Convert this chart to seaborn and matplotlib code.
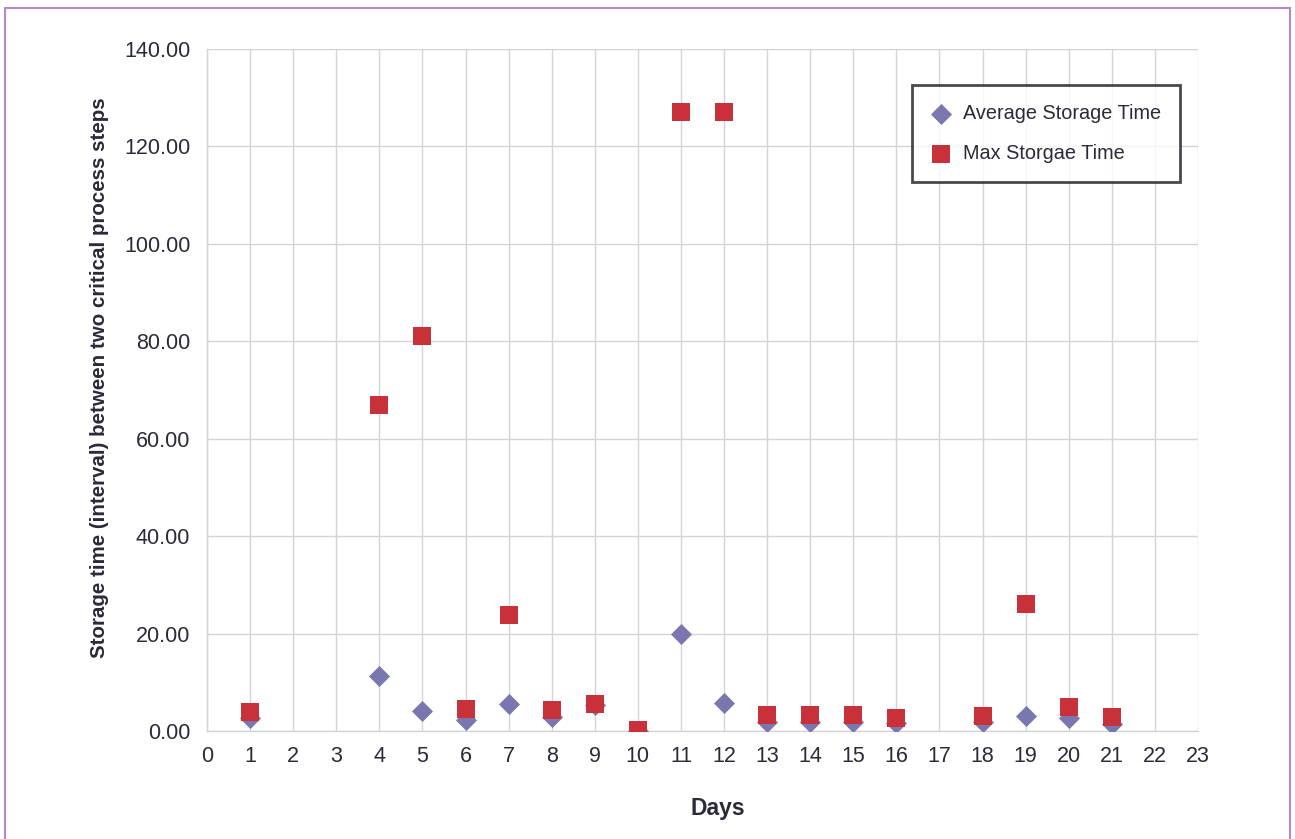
import matplotlib
matplotlib.use("Agg")
import matplotlib.pyplot as plt
import seaborn as sns
import pandas as pd
from matplotlib.patches import Rectangle
from matplotlib import font_manager

days = [1, 4, 5, 6, 7, 8, 9, 10, 11, 12, 13, 14, 15, 16, 18, 19, 20, 21]
avg_storage = [2.7, 11.3, 4.1, 2.3, 5.5, 2.9, 5.4, 0.1, 20.0, 5.8, 1.9, 1.9, 1.9, 1.6, 1.9, 3.0, 2.6, 1.5]
max_storage = [3.8, 66.9, 81.1, 4.5, 23.8, 4.3, 5.5, 0.2, 127.1, 127.1, 3.3, 3.3, 3.3, 2.7, 3.1, 26.1, 4.9, 2.9]
series_names = ["Average Storage Time", "Max Storgae Time"]
x_ticks = list(range(0, 24))
y_ticks = [0, 20, 40, 60, 80, 100, 120, 140]

sns.set_theme(style="white")
names = {f.name for f in font_manager.fontManager.ttflist}
fam = "Liberation Sans Narrow" if "Liberation Sans Narrow" in names else "Liberation Sans"
plt.rcParams["font.family"] = [fam, "DejaVu Sans"]

df = pd.DataFrame({
    "Day": days * 2,
    "Value": avg_storage + max_storage,
    "Series": [series_names[0]] * len(days) + [series_names[1]] * len(days),
})

fig = plt.figure(figsize=(12.95, 8.39), dpi=100)
ax = fig.add_axes([207 / 1295, 1 - 731 / 839, (1198 - 207) / 1295, (731 - 49) / 839])

palette = {series_names[0]: "#7A77AE", series_names[1]: "#C8313A"}
markers = {series_names[0]: "D", series_names[1]: "s"}
sizes_map = {series_names[0]: 115, series_names[1]: 160}
for name in series_names:
    sub = df[df["Series"] == name]
    sns.scatterplot(data=sub, x="Day", y="Value", ax=ax, color=palette[name],
                    marker=markers[name], s=sizes_map[name], linewidth=0,
                    label=name, zorder=3)

ax.set_xlim(0, 23)
ax.set_ylim(0, 140)
ax.set_xticks(x_ticks)
ax.set_yticks(y_ticks)
ax.set_yticklabels([f"{v:.2f}" for v in y_ticks])
ax.grid(True, color="#D4D4D8", linewidth=1.0)
ax.set_axisbelow(True)
for s in ["top", "right"]:
    ax.spines[s].set_visible(False)
for s in ["left", "bottom"]:
    ax.spines[s].set_color("#D4D4D8")
    ax.spines[s].set_linewidth(1.0)
ax.tick_params(axis="both", which="both", direction="out", length=7, width=1,
               color="#C8C8CC", labelsize=15.5, labelcolor="#2A2A3A", pad=4)
ax.tick_params(axis="y", length=6, pad=6)

ax.set_xlabel("Days", fontsize=16.5, fontweight="bold", color="#2A2A3A")
ax.xaxis.set_label_coords((718 - 207) / 991, -(808 - 731) / 682, transform=ax.transAxes)
ax.xaxis.label.set_va("center")
ax.set_ylabel("Storage time (interval) between two critical process steps",
              fontsize=14.8, fontweight="bold", color="#2A2A3A")
ax.yaxis.set_label_coords(-(207 - 100) / 991, (731 - 378) / 682, transform=ax.transAxes)
ax.yaxis.label.set_va("center")

leg = ax.legend(loc="upper left", bbox_to_anchor=((912 - 207) / 991, 1 - (85 - 49) / 682),
                frameon=True, fancybox=False, fontsize=14.3, borderpad=0.95,
                labelspacing=1.05, handletextpad=0.6, handlelength=1.0,
                borderaxespad=0)
leg.get_frame().set_edgecolor("#1A1A24")
leg.get_frame().set_linewidth(2.0)
for t in leg.get_texts():
    t.set_color("#2A2A3A")

fig.patches.append(Rectangle((5 / 1295, -0.05), (1290 - 5) / 1295, 1.05 - 8 / 839,
                             transform=fig.transFigure, fill=False,
                             edgecolor="#B58AC2", linewidth=1.5))

fig.savefig("out.png", dpi=100)
